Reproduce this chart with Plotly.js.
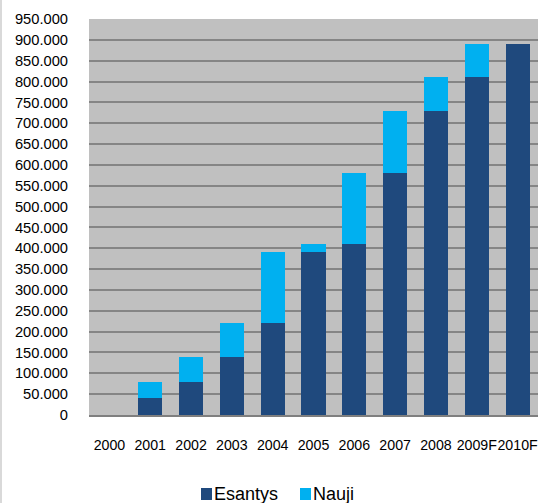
<!DOCTYPE html>
<html>
<head>
<meta charset="utf-8">
<script src="https://cdn.plot.ly/plotly-3.0.1.min.js"></script>
<style>html,body{margin:0;padding:0;background:#fff;}#chart{width:539px;height:503px;}</style>
</head>
<body>
<div id="chart"></div>
<script>
const categories = ['2000','2001','2002','2003','2004','2005','2006','2007','2008','2009F','2010F'];
const esantys = [0, 40000, 80000, 140000, 220000, 390000, 410000, 580000, 730000, 810000, 890000];
const nauji   = [0, 40000, 60000, 80000, 170000, 20000, 170000, 150000, 80000, 80000, 0];
const yTicks  = [0,50000,100000,150000,200000,250000,300000,350000,400000,450000,500000,550000,600000,650000,700000,750000,800000,850000,900000,950000];
const seriesNames = ['Esantys','Nauji'];
const seriesColors = ['#1F497D','#00B0F0'];

const traces = [
  {type:'bar', name:seriesNames[0], x:categories, y:esantys,
   marker:{color:seriesColors[0], line:{width:0}}, hoverinfo:'y'},
  {type:'bar', name:seriesNames[1], x:categories, y:nauji,
   marker:{color:seriesColors[1], line:{width:0}}, hoverinfo:'y'}
];

// custom legend (compact symbol/text spacing as in reference)
const legendItems = [
  {sq0:0.2494, sq1:0.2739, tx:0.2762},
  {sq0:0.4699, sq1:0.4944, tx:0.4967}
];
const shapes = [{type:'line', xref:'paper', yref:'paper', x0:-0.196, x1:-0.196, y0:-0.23, y1:1.05,
                 line:{color:'#d9d9d9', width:2}}];
const annotations = [];
legendItems.forEach((it, i) => {
  shapes.push({type:'rect', xref:'paper', yref:'paper', x0:it.sq0, x1:it.sq1, y0:-0.2146, y1:-0.1843,
               fillcolor:seriesColors[i], line:{width:0}});
  annotations.push({xref:'paper', yref:'paper', x:it.tx, y:-0.1995, xanchor:'left', yanchor:'middle',
                    text:seriesNames[i], showarrow:false, font:{size:18, color:'#000'}, borderpad:0});
});

const layout = {
  width:539, height:503,
  margin:{l:89, r:1, t:19, b:88, autoexpand:false},
  barmode:'stack', bargap:0.41,
  separators:',.',
  paper_bgcolor:'#ffffff', plot_bgcolor:'#C0C0C0',
  font:{family:'Liberation Sans, Arial, sans-serif', size:14.7, color:'#000'},
  xaxis:{type:'category', showgrid:false, showline:true, linecolor:'#7f7f7f', linewidth:2,
         ticks:'', ticklabelstandoff:16, tickangle:0, tickfont:{size:14.2}, fixedrange:true},
  yaxis:{range:[0,950000], tickvals:yTicks, tickformat:',d', showgrid:true, gridcolor:'#858585', gridwidth:2,
         zeroline:false, showline:false, ticks:'', ticklabelstandoff:20, tickfont:{size:14.7}, fixedrange:true},
  showlegend:false,
  shapes:shapes,
  annotations:annotations
};

Plotly.newPlot('chart', traces, layout, {displayModeBar:false, staticPlot:true});
</script>
</body>
</html>
